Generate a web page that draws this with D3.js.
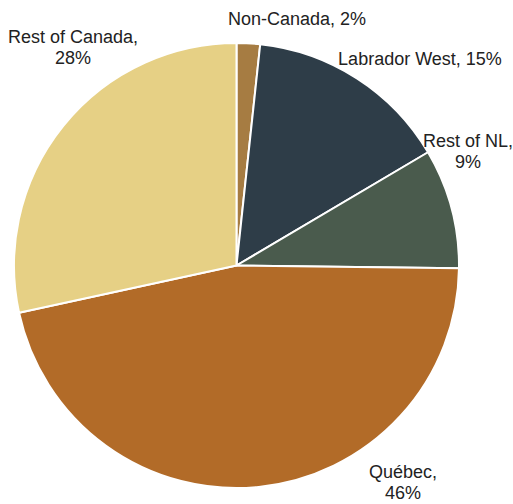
<!DOCTYPE html>
<html>
<head>
<meta charset="utf-8">
<script src="https://cdn.jsdelivr.net/npm/d3@7"></script>
<style>
  body { margin: 0; background: #fff; }
  text { font-family: "Liberation Sans", Arial, sans-serif; font-size: 18px; fill: #222; }
</style>
</head>
<body>
<div id="container"></div>
<script>
// slices, clockwise from 12 o'clock
const regions = ["Non-Canada", "Labrador West", "Rest of NL", "Québec", "Rest of Canada"];
const shares = [1.7, 14.8, 8.7, 46.4, 28.4];
const colors = ["#a67c42", "#2e3d48", "#4a5b4d", "#b26b28", "#e6d085"];

// label placement (centre x, first baseline y, one or two lines)
const labelSpots = [
    { x: 297, y: 25, split: false },
    { x: 420, y: 65, split: false },
    { x: 468, y: 147, split: true },
    { x: 403, y: 478, split: true },
    { x: 73, y: 43, split: true }
];

const width = 513, height = 504;
const cx = 236.5, cy = 265.5, radius = 222.5;

const svg = d3.select("#container").append("svg")
    .attr("width", width)
    .attr("height", height);

const data = regions.map((r, i) => ({ region: r, value: shares[i], color: colors[i] }));

const pie = d3.pie().sort(null).value(d => d.value);
const arc = d3.arc().innerRadius(0).outerRadius(radius);

const g = svg.append("g").attr("transform", `translate(${cx},${cy})`);

g.selectAll("path")
    .data(pie(data))
  .enter().append("path")
    .attr("d", arc)
    .attr("fill", d => d.data.color)
    .attr("stroke", "#fff")
    .attr("stroke-width", 2)
    .attr("stroke-linejoin", "round");

const labels = svg.append("g");
data.forEach((d, i) => {
    const spot = labelSpots[i];
    const pct = Math.round(d.value) + "%";
    const t = labels.append("text")
        .attr("text-anchor", "middle")
        .attr("x", spot.x)
        .attr("y", spot.y);
    if (spot.split) {
        t.append("tspan").attr("x", spot.x).text(d.region + ",");
        t.append("tspan").attr("x", spot.x).attr("dy", 21).text(pct);
    } else {
        t.text(d.region + ", " + pct);
    }
});
</script>
</body>
</html>
